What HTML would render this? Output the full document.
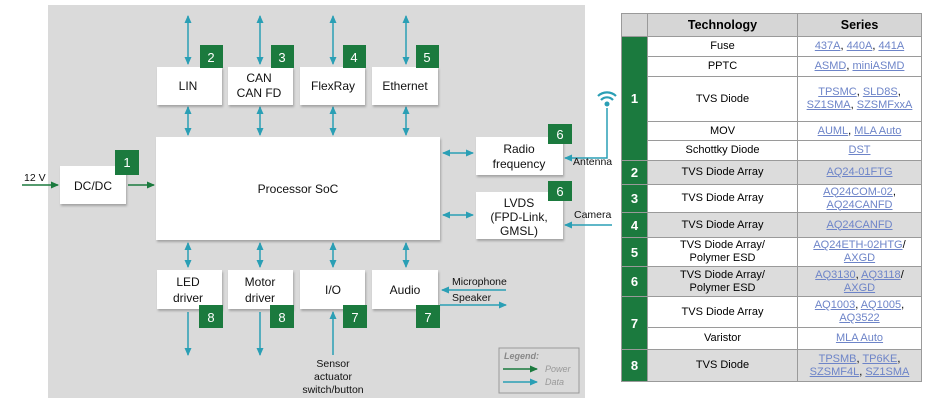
<!DOCTYPE html>
<html><head><meta charset="utf-8"><style>
body{margin:0;background:#fff;width:929px;height:415px;overflow:hidden;font-family:"Liberation Sans",sans-serif}
svg text{font-family:"Liberation Sans",sans-serif}
.t{position:absolute;left:621px;top:13px;border-collapse:collapse;font-size:11px;}
.t td{border:1px solid #9a9a9a;text-align:center;padding:0;line-height:13px}
.t a{color:#6d84c8;text-decoration:underline}
.n{background:#1b7a3e;color:#fff;font-weight:bold;font-size:13px;border-color:#9a9a9a}
.g td{background:#dcdcdc}
.g td.n{background:#1b7a3e}
.h td{background:#d6d6d6;font-weight:bold;font-size:12.5px}
</style></head><body>
<svg width="929" height="415" style="position:absolute;left:0;top:0">
<defs>
<marker id="b" markerWidth="8" markerHeight="8" refX="7" refY="4" orient="auto-start-reverse" markerUnits="userSpaceOnUse"><path d="M0,0.5 L8,4 L0,7.5z" fill="#2a9fb5"/></marker>
<marker id="g" markerWidth="8" markerHeight="8" refX="7" refY="4" orient="auto" markerUnits="userSpaceOnUse"><path d="M0,0.5 L8,4 L0,7.5z" fill="#1b7a3e"/></marker>
<filter id="s"><feDropShadow dx="1" dy="2" stdDeviation="1" flood-color="#000" flood-opacity="0.25"/></filter>
</defs>
<rect x="48" y="5" width="537" height="393" fill="#dadada"/>
<g stroke="#2a9fb5" stroke-width="1.5" marker-start="url(#b)" marker-end="url(#b)">
<line x1="188" y1="16" x2="188" y2="64"/><line x1="260" y1="16" x2="260" y2="64"/><line x1="333" y1="16" x2="333" y2="64"/><line x1="406" y1="16" x2="406" y2="64"/>
<line x1="188" y1="107" x2="188" y2="135"/><line x1="260" y1="107" x2="260" y2="135"/><line x1="333" y1="107" x2="333" y2="135"/><line x1="406" y1="107" x2="406" y2="135"/>
<line x1="188" y1="243" x2="188" y2="267"/><line x1="260" y1="243" x2="260" y2="267"/><line x1="333" y1="243" x2="333" y2="267"/><line x1="406" y1="243" x2="406" y2="267"/>
<line x1="443" y1="153" x2="473" y2="153"/><line x1="443" y1="215" x2="473" y2="215"/>
</g>
<g stroke="#2a9fb5" stroke-width="1.5" fill="none" marker-end="url(#b)">
<line x1="188" y1="312" x2="188" y2="355"/><line x1="260" y1="312" x2="260" y2="355"/>
<line x1="333" y1="355" x2="333" y2="312"/>
<line x1="506" y1="290" x2="442" y2="290"/><line x1="440" y1="305" x2="506" y2="305"/>
<polyline points="607,108 607,158 565,158"/>
<line x1="612" y1="225" x2="565" y2="225"/>
</g>
<g stroke="#1b7a3e" stroke-width="1.5" marker-end="url(#g)">
<line x1="22" y1="185" x2="58" y2="185"/><line x1="128" y1="185" x2="154" y2="185"/>
</g>
<g fill="#fff" filter="url(#s)">
<rect x="157" y="67" width="65" height="38"/><rect x="228" y="67" width="65" height="38"/><rect x="300" y="67" width="65" height="38"/><rect x="372" y="67" width="66" height="38"/>
<rect x="156" y="137" width="284" height="103"/>
<rect x="60" y="166" width="66" height="38"/>
<rect x="476" y="137" width="87" height="38"/><rect x="476" y="192" width="87" height="47"/>
<rect x="157" y="270" width="65" height="39"/><rect x="228" y="270" width="65" height="39"/><rect x="300" y="270" width="65" height="39"/><rect x="372" y="270" width="66" height="39"/>
</g>
<g fill="#1b7a3e">
<rect x="200" y="45" width="23" height="23"/><rect x="271" y="45" width="23" height="23"/><rect x="343" y="45" width="23" height="23"/><rect x="416" y="45" width="23" height="23"/>
<rect x="115" y="150" width="24" height="25"/>
<rect x="548" y="124" width="24" height="20"/><rect x="548" y="181" width="24" height="20"/>
<rect x="199" y="305" width="24" height="23"/><rect x="270" y="305" width="24" height="23"/><rect x="343" y="305" width="24" height="23"/><rect x="416" y="305" width="24" height="23"/>
</g>
<g fill="#fff" font-size="13" text-anchor="middle">
<text x="211" y="62">2</text><text x="282" y="62">3</text><text x="354" y="62">4</text><text x="427" y="62">5</text>
<text x="127" y="167">1</text><text x="560" y="139">6</text><text x="560" y="196">6</text>
<text x="211" y="322">8</text><text x="282" y="322">8</text><text x="355" y="322">7</text><text x="428" y="322">7</text>
</g>
<g fill="#111" font-size="12" text-anchor="middle">
<text x="188" y="90">LIN</text><text x="259" y="82">CAN</text><text x="259" y="97">CAN FD</text><text x="333" y="90">FlexRay</text><text x="405" y="90">Ethernet</text>
<text x="298" y="193">Processor SoC</text><text x="93" y="190">DC/DC</text>
<text x="519" y="153">Radio</text><text x="519" y="168">frequency</text>
<text x="519" y="207">LVDS</text><text x="519" y="221">(FPD-Link,</text><text x="519" y="235">GMSL)</text>
<text x="188" y="286">LED</text><text x="188" y="302">driver</text><text x="260" y="286">Motor</text><text x="260" y="302">driver</text>
<text x="333" y="294">I/O</text><text x="405" y="294">Audio</text>
</g>
<g fill="#111" font-size="10.5">
<text x="24" y="181">12 V</text>
<text x="452" y="285">Microphone</text><text x="452" y="301">Speaker</text>
<text x="573" y="165">Antenna</text><text x="574" y="218">Camera</text>
<text x="333" y="367" text-anchor="middle">Sensor</text><text x="333" y="380" text-anchor="middle">actuator</text><text x="333" y="393" text-anchor="middle">switch/button</text>
</g>
<rect x="499" y="348" width="80" height="45" fill="none" stroke="#999" stroke-width="1"/>
<text x="504" y="359" font-size="9" font-style="italic" fill="#888" font-weight="bold">Legend:</text>
<line x1="503" y1="369" x2="537" y2="369" stroke="#1b7a3e" stroke-width="1.5" marker-end="url(#g)"/>
<line x1="503" y1="382" x2="537" y2="382" stroke="#2a9fb5" stroke-width="1.5" marker-end="url(#b)"/>
<text x="545" y="372" font-size="9" font-style="italic" fill="#999">Power</text>
<text x="545" y="385" font-size="9" font-style="italic" fill="#999">Data</text>
<g fill="none" stroke="#2a9fb5" stroke-width="2.2">
<path d="M598,96 A13,13 0 0 1 616,96"/><path d="M601,100 A8,8 0 0 1 613,100"/>
</g>
<circle cx="607" cy="104" r="2.5" fill="#2a9fb5"/>
</svg>
<table class="t">
<tr class="h" style="height:23px"><td style="width:25px"></td><td style="width:149px">Technology</td><td style="width:123px">Series</td></tr>
<tr style="height:20px"><td class="n" rowspan="5">1</td><td>Fuse</td><td><a>437A</a>, <a>440A</a>, <a>441A</a></td></tr>
<tr style="height:20px"><td>PPTC</td><td><a>ASMD</a>, <a>miniASMD</a></td></tr>
<tr style="height:45px"><td>TVS Diode</td><td><a>TPSMC</a>, <a>SLD8S</a>,<br><a>SZ1SMA</a>, <a>SZSMFxxA</a></td></tr>
<tr style="height:19px"><td>MOV</td><td><a>AUML</a>, <a>MLA Auto</a></td></tr>
<tr style="height:20px"><td>Schottky Diode</td><td><a>DST</a></td></tr>
<tr class="g" style="height:24px"><td class="n">2</td><td>TVS Diode Array</td><td><a>AQ24-01FTG</a></td></tr>
<tr style="height:28px"><td class="n">3</td><td>TVS Diode Array</td><td><a>AQ24COM-02</a>,<br><a>AQ24CANFD</a></td></tr>
<tr class="g" style="height:25px"><td class="n">4</td><td>TVS Diode Array</td><td><a>AQ24CANFD</a></td></tr>
<tr style="height:29px"><td class="n">5</td><td>TVS Diode Array/<br>Polymer ESD</td><td><a>AQ24ETH-02HTG</a>/<br><a>AXGD</a></td></tr>
<tr class="g" style="height:30px"><td class="n">6</td><td>TVS Diode Array/<br>Polymer ESD</td><td><a>AQ3130</a>, <a>AQ3118</a>/<br><a>AXGD</a></td></tr>
<tr style="height:31px"><td class="n" rowspan="2">7</td><td>TVS Diode Array</td><td><a>AQ1003</a>, <a>AQ1005</a>,<br><a>AQ3522</a></td></tr>
<tr style="height:22px"><td>Varistor</td><td><a>MLA Auto</a></td></tr>
<tr class="g" style="height:32px"><td class="n">8</td><td>TVS Diode</td><td><a>TPSMB</a>, <a>TP6KE</a>,<br><a>SZSMF4L</a>, <a>SZ1SMA</a></td></tr>
</table>
</body></html>
